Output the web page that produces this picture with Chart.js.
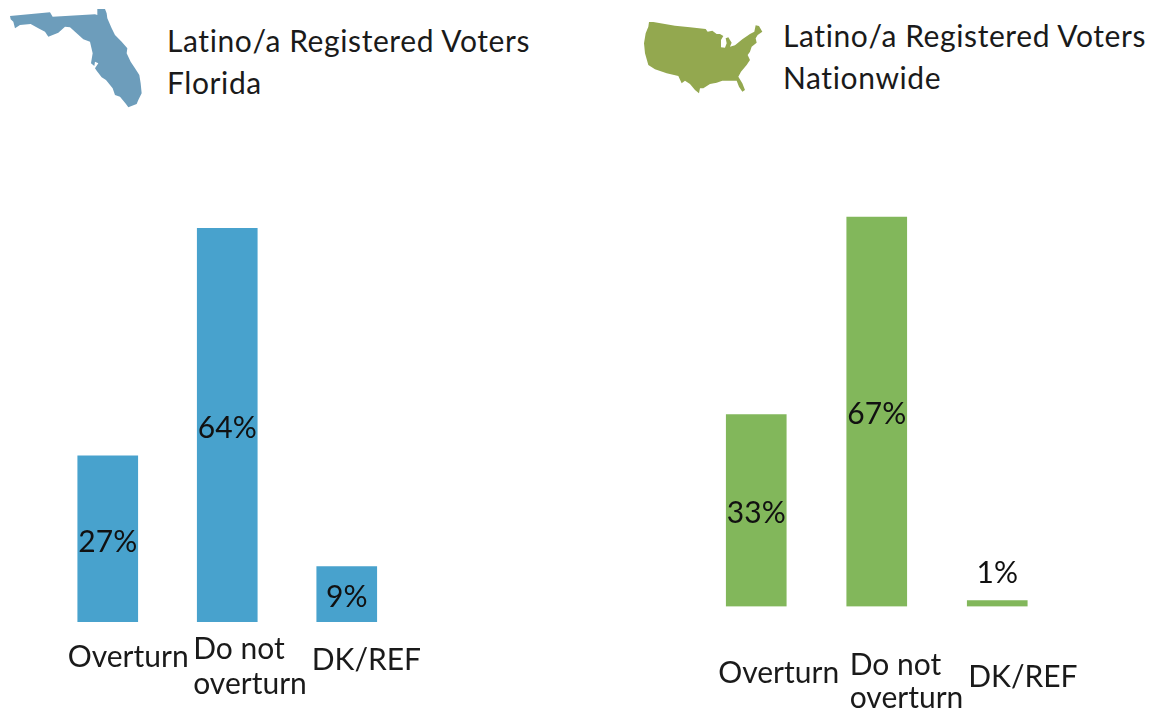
<!DOCTYPE html>
<html><head><meta charset="utf-8">
<script src="https://cdn.jsdelivr.net/npm/chart.js@4"></script>
<style>
html,body{margin:0;padding:0;background:#fff;width:1155px;height:713px;overflow:hidden}
canvas{position:absolute;left:0;top:0}
.t{position:absolute;font:30px Lato,sans-serif;color:#1a1a1a;line-height:41.5px;white-space:nowrap;letter-spacing:.6px}
svg{position:absolute;left:0;top:0}
</style></head><body>
<svg width="1155" height="713">
<path id="fl" fill="#6D9DBB" transform="scale(0.3333)" d="M30 48L150 37L158 50L285 43L292 45L292 27L315 27L320 40L322 55L335 85L345 105L365 125L382 145L380 160L392 185L405 205L418 225L422 250L425 280L415 300L410 312L385 322L378 312L360 290L345 285L338 265L318 240L305 232L290 212L285 205L295 190L285 185L283 198L273 190L278 160L270 125L250 118L230 100L210 82L195 80L175 98L145 110L135 95L115 85L92 72L60 75L45 85L40 65L32 58Z"/>
<path id="us" fill="#93A84F" transform="translate(635 10) scale(0.3333)" d="M42 36L55 36L120 47L165 52L212 57L218 65L232 62L245 72L255 72L265 78L258 90L258 112L270 113L275 100L272 85L280 82L290 98L285 110L300 106L322 88L345 72L358 65L362 46L372 48L382 65L368 75L362 85L365 98L350 110L345 125L338 135L345 150L335 165L318 185L310 200L322 220L330 240L322 245L312 230L305 212L285 212L262 212L245 218L225 222L205 235L195 235L192 250L180 240L165 222L150 212L140 220L130 198L95 190L60 178L40 165L30 130L27 100L32 70L40 50Z"/>
</svg>
<div class="t" style="left:167px;top:20px">Latino/a Registered Voters<br>Florida</div>
<div class="t" style="left:783px;top:15px">Latino/a Registered Voters<br>Nationwide</div>
<canvas id="c1" width="1155" height="713"></canvas>
<canvas id="c2" width="1155" height="713"></canvas>
<script>
const categories = ["Overturn", "Do not\noverturn", "DK/REF"];
const floridaValues = [27, 64, 9];
const nationwideValues = [33, 67, 1];
const floridaColor = "#48A2CD";
const nationwideColor = "#82B75B";
const yMax = 70;
const FONT = "30px Lato, sans-serif";

const valueLabels = {
  id: "valueLabels",
  afterDatasetsDraw(chart) {
    const ctx = chart.ctx;
    const meta = chart.getDatasetMeta(0);
    ctx.save();
    ctx.font = FONT; ctx.fillStyle = "#111"; ctx.textAlign = "center"; ctx.textBaseline = "middle";
    meta.data.forEach((bar, i) => {
      const v = chart.data.datasets[0].data[i];
      const y = v < 3 ? bar.y - 27 : (bar.y + bar.base) / 2 + 3;
      ctx.fillText(v + "%", bar.x, y);
    });
    ctx.restore();
  }
};
const categoryLabels = {
  id: "categoryLabels",
  afterDraw(chart, args, opts) {
    const ctx = chart.ctx, x = chart.scales.x;
    ctx.save();
    ctx.font = FONT; ctx.fillStyle = "#1a1a1a"; ctx.textAlign = "left"; ctx.textBaseline = "middle";
    chart.data.labels.forEach((lab, i) => {
      const p = opts.place[i];
      lab.split("\n").forEach((line, k) => {
        ctx.fillText(line, x.getPixelForValue(i) + p[0], chart.chartArea.bottom + p[1] + k * opts.gap);
      });
    });
    ctx.restore();
  }
};
function make(id, values, color, pad, place, gap) {
  return new Chart(document.getElementById(id), {
    type: "bar",
    data: { labels: categories, datasets: [{ data: values, backgroundColor: color, barThickness: 60 }] },
    options: {
      responsive: false, animation: false,
      layout: { padding: pad },
      plugins: { legend: { display: false }, tooltip: { enabled: false }, title: { display: false },
                 categoryLabels: { place, gap } },
      scales: {
        x: { display: false },
        y: { display: false, min: 0, max: yMax }
      }
    },
    plugins: [valueLabels, categoryLabels]
  });
}
make("c1", floridaValues, floridaColor,
  { left: 48, right: 748.5, top: 191.5, bottom: 91 },
  [[-40, 35], [-34, 27], [-35, 38]], 35);
make("c2", nationwideValues, nationwideColor,
  { left: 696, right: 97.5, top: 199.6, bottom: 106.5 },
  [[-38, 67], [-27, 59], [-29, 71]], 33);
</script>
</body></html>
